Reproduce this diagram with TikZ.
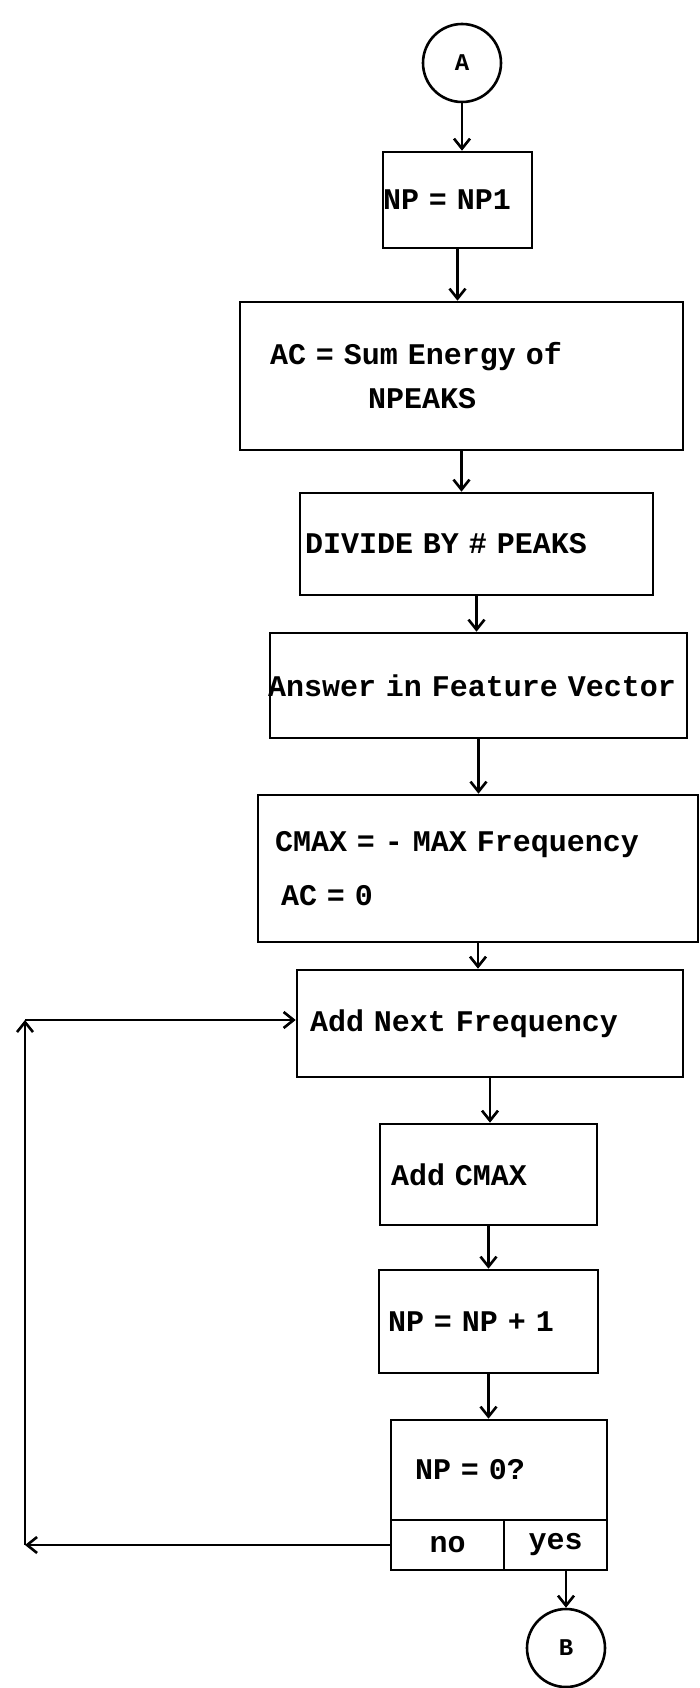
\documentclass[tikz,border=0pt]{standalone}
\usepackage{fontspec}
\newfontfamily\flowfont{Liberation Mono}
\usetikzlibrary{arrows.meta}

\tikzset{
  stepbox/.style={draw, inner xsep=0pt, align=left,
    font={\flowfont\bfseries\fontsize{30}{44}\selectfont}},
  conn/.style={draw, circle, minimum size=78pt, inner sep=0pt,
    font={\flowfont\bfseries\fontsize{24}{28}\selectfont}},
}

\begin{document}
\begin{tikzpicture}[x=1pt, y=-1pt, line width=2.6pt, >={Straight Barb[length=10pt,width=16pt]}]
  \useasboundingbox (0,0) rectangle (700,1688);
  % 結合子
  \node[conn] (A) at (462,63) {A};
  \node[conn] (B) at (566,1648) {B};
  % 処理ボックス
  \node[stepbox, text width=149pt, minimum height=96pt] (np1) at (457.5,200) {NP = NP1};
  \node[stepbox, text width=443pt, minimum height=148pt] (ac) at (461.5,376)
    {\hspace*{30pt}AC = Sum Energy of\\ \hspace*{128pt}NPEAKS};
  \node[stepbox, text width=353pt, minimum height=102pt] (div) at (476.5,544)
    {\hspace*{5pt}DIVIDE BY \# PEAKS};
  \node[stepbox, text width=417pt, minimum height=105pt] (ans) at (478.5,685.5)
    {\hspace*{-2pt}Answer in Feature Vector};
  \node[stepbox, text width=440pt, minimum height=147pt] (cmax) at (478,868.5)
    {\hspace*{17pt}CMAX = - MAX Frequency\\[10pt] \hspace*{23pt}AC = 0};
  \node[stepbox, text width=386pt, minimum height=107pt] (anf) at (490,1023.5)
    {\hspace*{13pt}Add Next Frequency};
  \node[stepbox, text width=217pt, minimum height=101pt] (acm) at (488.5,1174.5)
    {\hspace*{11pt}Add CMAX};
  \node[stepbox, text width=219pt, minimum height=103pt] (npp) at (488.5,1321.5)
    {\hspace*{9pt}NP = NP + 1};
  % 判定
  \node[stepbox, text width=216pt, minimum height=100pt] (npz) at (499,1470)
    {\hspace*{24pt}NP = 0?};
  \node[stepbox, align=center, text width=113pt, minimum height=50pt] (no) at (447.5,1545) {no};
  \node[stepbox, align=center, text width=103pt, minimum height=50pt] (yes) at (555.5,1545) {yes};
  % 流れ
  \draw[->] (A) -- (A |- np1.north);
  \draw[->] (np1) -- (np1 |- ac.north);
  \draw[->] (ac) -- (ac |- div.north);
  \draw[->] (div) -- (div |- ans.north);
  \draw[->] (ans) -- (ans |- cmax.north);
  \draw[->] (cmax) -- (cmax |- anf.north);
  \draw[->] (anf) -- (anf |- acm.north);
  \draw[->] (acm) -- (acm |- npp.north);
  \draw[->] (npp) -- (npp |- npz.north);
  \draw[->] (yes.south -| B) -- (B);
  % no のときのループ
  \coordinate (lb) at (25,1545);
  \coordinate (lt) at (25,1020);
  \draw[->] (no) -- (lb);
  \draw[->] (lb) -- (lt);
  \draw[->] (lt) -- (lt -| anf.west);
\end{tikzpicture}
\end{document}
